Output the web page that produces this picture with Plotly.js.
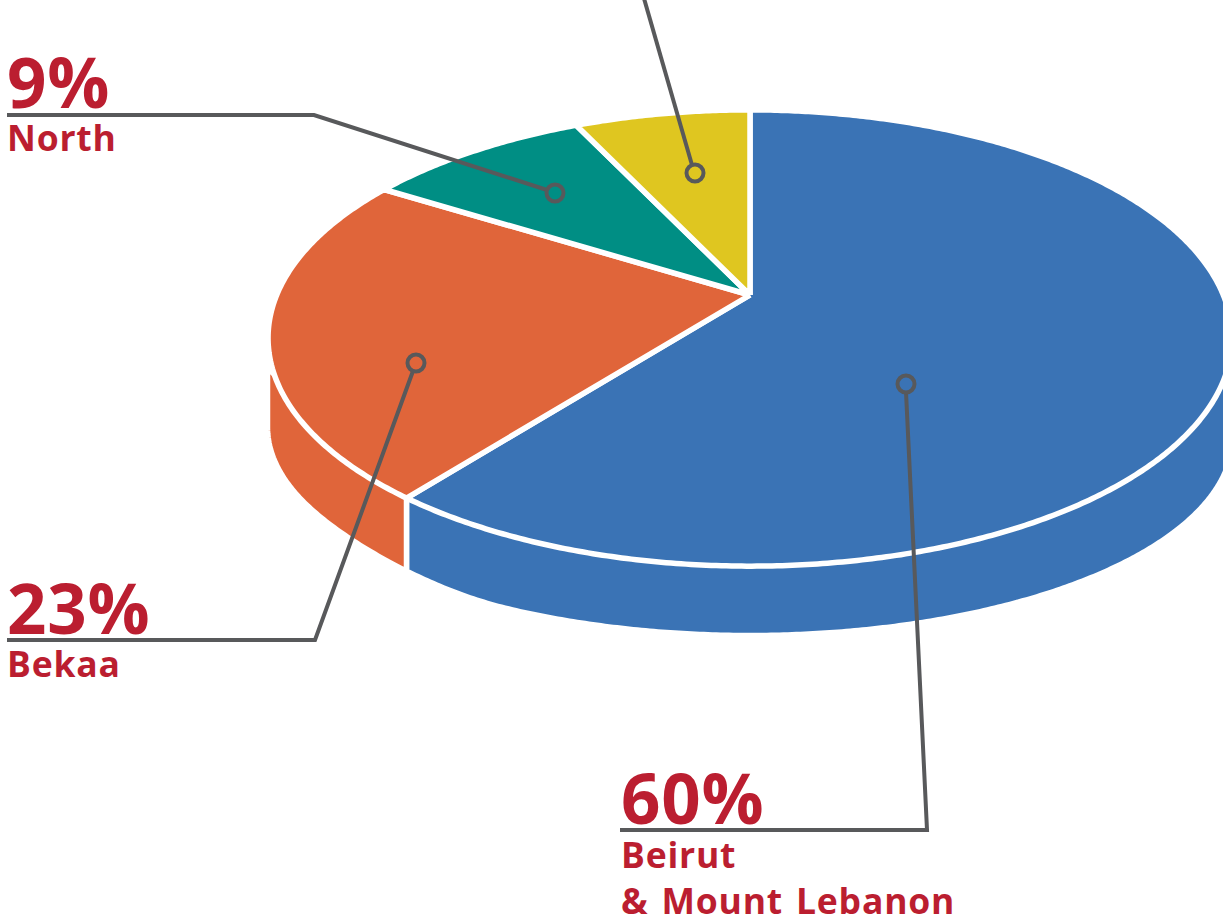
<!DOCTYPE html>
<html>
<head>
<meta charset="utf-8">
<script src="https://cdn.plot.ly/plotly-3.0.1.min.js"></script>
<style>html,body{margin:0;padding:0;background:#fff}#chart{width:1223px;height:916px}
#chart .annotation-text{letter-spacing:.8px;word-spacing:3px}</style>
</head>
<body>
<div id="chart"></div>
<script>
// Data (the fourth label is cropped off the top of the image)
const categories = ['Beirut & Mount Lebanon', 'Bekaa', 'North', 'Cropped label'];
const shares = [60, 23, 9, 7];
const sliceColors = ['#3a73b5', '#e0653a', '#008e84', '#dfc620'];
const pctLabels = ['60%', '23%', '9%'];
const nameLabels = ['Beirut<br>& Mount Lebanon', 'Bekaa', 'North'];

// Perspective view of the disc, in page pixels
const view = {cx: 750, cy: 295, A: 473.3, B: 220, k: 0.1886};
const base = {cx: 750, cy: 438, rx: 482.5, ry: 197.5};
const gap = 5.5, ink = '#bb1e30', leader = '#58595b';

function project(deg) {
  const t = deg * Math.PI / 180, u = Math.sin(t), v = Math.cos(t), d = 1 + view.k * v;
  return [view.cx + view.A * u / d, view.cy - view.B * v / d];
}
const total = shares.reduce((a, b) => a + b, 0);
const edges = [0];
shares.forEach(s => edges.push(edges[edges.length - 1] + s / total * 360));

function baseY(x) {
  const q = (x - base.cx) / base.rx;
  // the left corner of the wall is cut flatter than a true ellipse
  const s = q < 0 ? Math.min(1, Math.max(0, (-q - 0.5) / 0.42)) : 0;
  const trim = 11 * s * s * (3 - 2 * s);
  return base.cy + base.ry * Math.sqrt(Math.max(0, 1 - q * q)) - trim;
}
function baseArc(x0, x1) {
  const xs = [], ys = [];
  for (let i = 0; i <= 360; i++) {
    const q = -Math.cos(Math.PI * i / 360), x = base.cx + base.rx * q;
    if (x >= x0 && x <= x1) { xs.push(x); ys.push(baseY(x)); }
  }
  return [xs, ys];
}
const traces = [];
function poly(xs, ys, color, name) {
  traces.push({type: 'scatter', mode: 'lines', x: xs, y: ys, fill: 'toself', fillcolor: color,
    line: {color: '#ffffff', width: gap, simplify: false}, hoverinfo: 'name', name: name, showlegend: false});
}

// Side wall, split where the first slice ends
const split = project(edges[1]);
{
  const [ax, ay] = baseArc(split[0], base.cx + base.rx);
  poly([split[0], split[0]].concat(ax, [base.cx + base.rx + 1, split[0]]),
       [split[1], baseY(split[0])].concat(ay, [339, split[1]]), sliceColors[0], categories[0] + ' side');
  const [bx, by] = baseArc(base.cx - base.rx, split[0]);
  poly([base.cx - base.rx, base.cx - base.rx].concat(bx, [split[0], split[0], base.cx - base.rx]),
       [368, base.cy - 11].concat(by, [baseY(split[0]), split[1], 368]), sliceColors[1], categories[1] + ' side');
}
// Top face
shares.forEach((s, i) => {
  const xs = [view.cx], ys = [view.cy];
  const n = Math.ceil(edges[i + 1] - edges[i]) * 2;
  for (let j = 0; j <= n; j++) {
    const p = project(edges[i] + (edges[i + 1] - edges[i]) * j / n);
    xs.push(p[0]); ys.push(p[1]);
  }
  xs.push(view.cx); ys.push(view.cy);
  poly(xs, ys, sliceColors[i], categories[i]);
});

// Leader lines and ring markers
const leaders = [
  {x: [906, 927, 620], y: [392, 830, 830], ring: [906, 384]},
  {x: [413, 315, 7], y: [371, 640, 640], ring: [416, 363]},
  {x: [547, 314, 7], y: [190, 115, 115], ring: [555, 193]},
  {x: [692, 643], y: [165, -5], ring: [695, 173]}
];
leaders.forEach(l => {
  traces.push({type: 'scatter', mode: 'lines', x: l.x, y: l.y, hoverinfo: 'skip', showlegend: false,
    line: {color: leader, width: 4, simplify: false}});
  traces.push({type: 'scatter', mode: 'markers', x: [l.ring[0]], y: [l.ring[1]], hoverinfo: 'skip', showlegend: false,
    marker: {symbol: 'circle-open', size: 17, color: leader, line: {color: leader, width: 4}}});
});

// Text
const pctPos = [[620, 845], [6, 655], [6, 129]];
const namePos = [[620, 829], [6, 638], [6, 112]];
const annotations = [];
pctLabels.forEach((t, i) => annotations.push({text: '<b>' + t + '</b>', x: pctPos[i][0], y: pctPos[i][1],
  xref: 'x', yref: 'y', xanchor: 'left', yanchor: 'bottom', showarrow: false, align: 'left', borderpad: 0,
  font: {family: 'Open Sans', size: 69, color: ink}}));
nameLabels.forEach((t, i) => annotations.push({text: '<b>' + t + '</b>', x: namePos[i][0], y: namePos[i][1],
  xref: 'x', yref: 'y', xanchor: 'left', yanchor: 'top', showarrow: false, align: 'left', borderpad: 0,
  font: {family: 'Open Sans', size: 35.5, color: ink}}));

const hidden = {visible: false, fixedrange: true, showgrid: false, zeroline: false};
Plotly.newPlot('chart', traces, {
  width: 1223, height: 916, margin: {l: 0, r: 0, t: 0, b: 0},
  paper_bgcolor: '#ffffff', plot_bgcolor: '#ffffff', showlegend: false,
  xaxis: Object.assign({range: [0, 1223]}, hidden),
  yaxis: Object.assign({range: [916, 0]}, hidden),
  annotations: annotations
}, {displayModeBar: false, staticPlot: true});
</script>
</body>
</html>
